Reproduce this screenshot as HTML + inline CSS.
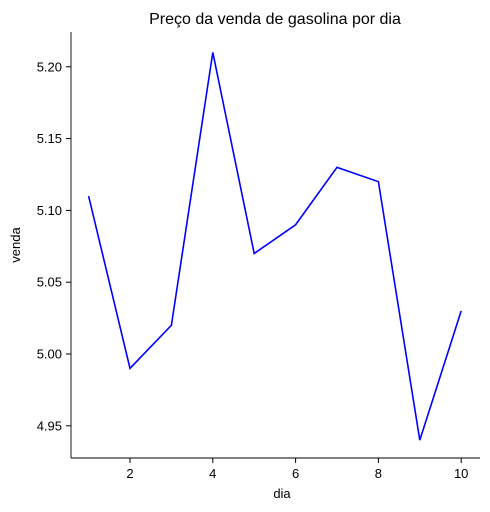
<!DOCTYPE html>
<html><head><meta charset="utf-8"><style>
body{margin:0;background:#fff;}
svg{display:block;font-family:"Liberation Sans","DejaVu Sans",sans-serif;}
</style></head><body>
<svg id="chart" width="490" height="512">
<text x="275" y="24" font-size="16" text-anchor="middle">Preço da venda de gasolina por dia</text>
<g id="axes"></g>
<path id="line" fill="none" stroke="#0000ff" stroke-width="1.6"></path>
<line x1="71" y1="32" x2="71" y2="458" stroke="#000" stroke-width="0.9"/>
<line x1="71" y1="458" x2="480" y2="458" stroke="#000" stroke-width="0.9"/>
<text x="282" y="498" font-size="13" text-anchor="middle">dia</text>
<text x="20" y="245" font-size="13" text-anchor="middle" transform="rotate(-90 20 245)">venda</text>
</svg>
<script>
const dias=[1,2,3,4,5,6,7,8,9,10];
const vendas=[5.11,4.99,5.02,5.21,5.07,5.09,5.13,5.12,4.94,5.03];
const xTicks=[2,4,6,8,10];
const yTicks=[4.95,5.00,5.05,5.10,5.15,5.20];
function xs(v){return 130+(v-2)*41.4;}
function ys(v){return 354-(v-5.0)/0.05*71.8;}
const ns="http://www.w3.org/2000/svg";
const g=document.getElementById('axes');
xTicks.forEach(t=>{
  const l=document.createElementNS(ns,'line');
  l.setAttribute('x1',xs(t));l.setAttribute('x2',xs(t));l.setAttribute('y1',458);l.setAttribute('y2',463);l.setAttribute('stroke','#000');
  
  
  g.appendChild(l);
  const tx=document.createElementNS(ns,'text');
  tx.setAttribute('x',xs(t));tx.setAttribute('y',478);tx.setAttribute('font-size','13');tx.setAttribute('text-anchor','middle');
  tx.textContent=t;
  
  
  g.appendChild(tx);
});
yTicks.forEach(t=>{
  const l=document.createElementNS(ns,'line');
  l.setAttribute('x1',66);l.setAttribute('x2',71);l.setAttribute('y1',ys(t));l.setAttribute('y2',ys(t));l.setAttribute('stroke','#000');
  
  
  g.appendChild(l);
  const tx=document.createElementNS(ns,'text');
  tx.setAttribute('x',62);tx.setAttribute('y',ys(t)+4.5);tx.setAttribute('font-size','13');tx.setAttribute('text-anchor','end');
  tx.textContent=t.toFixed(2);
  
  
  g.appendChild(tx);
});
document.getElementById('line').setAttribute('d',dias.map((d,i)=>(i?'L':'M')+xs(d)+','+ys(vendas[i])).join(' '));
</script>
</body></html>
